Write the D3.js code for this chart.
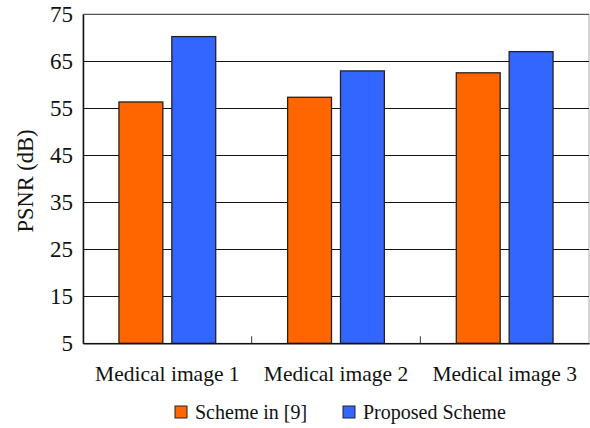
<!DOCTYPE html>
<html><head><meta charset="utf-8">
<script src="https://cdn.jsdelivr.net/npm/d3@7"></script>
<style>body{margin:0;background:#fff}</style>
</head><body><svg id="c" width="590" height="428"></svg>
<script>
const categories = ["Medical image 1", "Medical image 2", "Medical image 3"];
const seriesNames = ["Scheme in [9]", "Proposed Scheme"];
const schemeIn9 = [56.3, 57.3, 62.5];
const proposed = [70.2, 62.9, 67.0];
const yTicks = [5, 15, 25, 35, 45, 55, 65, 75];
const colors = ["#FF6600", "#3366FF"];

const svg = d3.select("#c");
const m = {l: 83, r: 1, t: 14, b: 85};
const W = 590, H = 428;
const x = d3.scaleBand().domain(categories).range([m.l, W - m.r]).paddingInner(0).paddingOuter(0);
const x1 = d3.scaleBand().domain(seriesNames).range([0, x.bandwidth()]).paddingInner(0.17).paddingOuter(0.68);
const y = d3.scaleLinear().domain([5, 75]).range([H - m.b + 0.3, m.t]);
const font = "'Liberation Serif', 'Times New Roman', serif";

// border
svg.append("rect").attr("x", m.l).attr("y", m.t).attr("width", W - m.r - m.l).attr("height", y(5) - m.t)
  .attr("fill", "none").attr("stroke", "#aaa").attr("stroke-width", 1);

// gridlines
svg.append("g").selectAll("line").data(yTicks.filter(d => d > 5 && d < 75)).join("line")
  .attr("x1", m.l).attr("x2", W - m.r).attr("y1", d => Math.round(y(d)) + 0.5).attr("y2", d => Math.round(y(d)) + 0.5)
  .attr("stroke", "#111").attr("stroke-width", 1.2);

// y axis
const ya = svg.append("g").attr("transform", `translate(${m.l},0)`)
  .call(d3.axisLeft(y).tickValues(yTicks).tickSize(0).tickPadding(10));
ya.select(".domain").attr("stroke", "#111").attr("stroke-width", 1.5);
ya.selectAll("text").style("font-family", font).style("font-size", "23px").attr("fill", "#111");
svg.append("line").attr("x1", m.l).attr("x2", W - m.r).attr("y1", m.t + 0.5).attr("y2", m.t + 0.5)
  .attr("stroke", "#555").attr("stroke-width", 1);

// bars
const data = categories.map((c, i) => ({c, vals: [schemeIn9[i], proposed[i]]}));
const g = svg.append("g").selectAll("g").data(data).join("g").attr("transform", d => `translate(${x(d.c)},0)`);
g.selectAll("rect").data(d => d.vals.map((v, j) => ({s: seriesNames[j], v, j}))).join("rect")
  .attr("x", d => x1(d.s)).attr("width", x1.bandwidth())
  .attr("y", d => y(d.v)).attr("height", d => y(5) - y(d.v))
  .attr("fill", d => colors[d.j]).attr("stroke", "#222").attr("stroke-width", 1.3);

// x axis
const xa = svg.append("g").attr("transform", `translate(0,${y(5)})`)
  .call(d3.axisBottom(x).tickSize(0).tickPadding(22));
xa.select(".domain").attr("stroke", "#111").attr("stroke-width", 1.5);
xa.selectAll("text").style("font-family", font).style("font-size", "21.5px").attr("fill", "#111");
// category separator ticks
svg.append("g").selectAll("line").data(categories.slice(1)).join("line")
  .attr("x1", d => x(d)).attr("x2", d => x(d)).attr("y1", y(5)).attr("y2", y(5) - 7)
  .attr("stroke", "#333").attr("stroke-width", 1);

// y title
svg.append("text").attr("transform", `translate(33,181) rotate(-90)`)
  .attr("text-anchor", "middle").style("font-family", font).style("font-size", "22.5px").attr("fill", "#111")
  .text("PSNR (dB)");

// legend
const legX = [175, 343];
const lg = svg.append("g").selectAll("g").data(seriesNames).join("g")
  .attr("transform", (d, i) => `translate(${legX[i]},406)`);
lg.append("rect").attr("width", 12).attr("height", 12).attr("fill", (d, i) => colors[i]).attr("stroke", "#222");
lg.append("text").attr("x", 20).attr("y", 13).style("font-family", font).style("font-size", "20px").attr("fill", "#111")
  .text(d => d);
</script></body></html>
